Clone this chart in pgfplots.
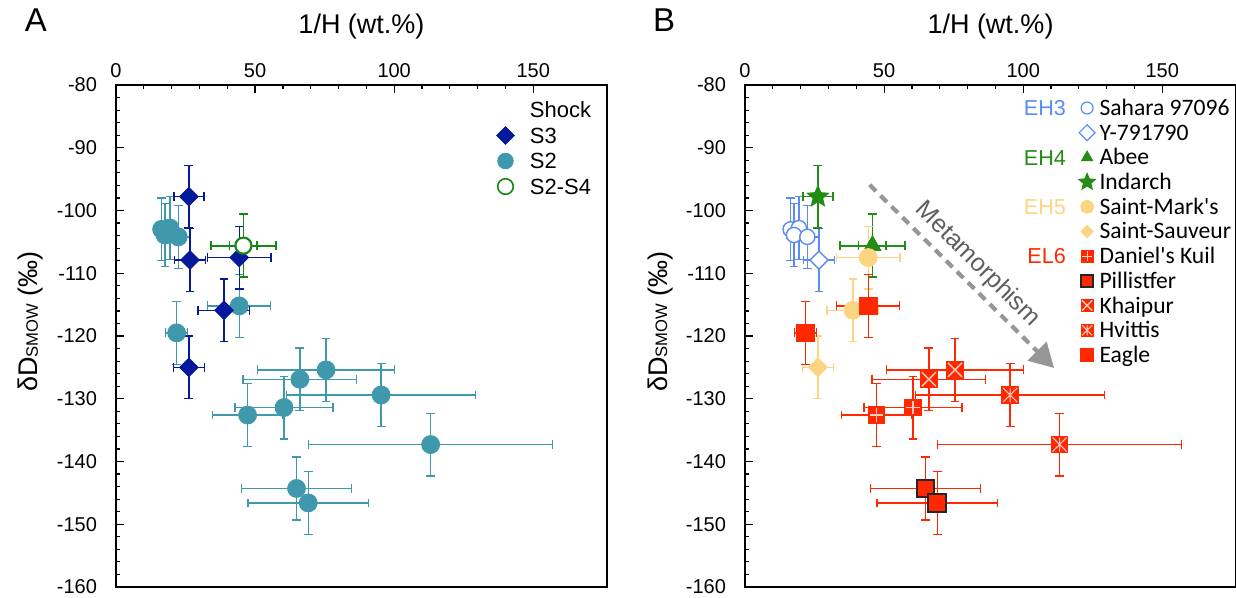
\documentclass[border=0pt]{standalone}
\usepackage{fontspec}
\setmainfont{Liberation Sans}
\newfontfamily\carlito{Carlito}
\usepackage{pgfplots}
\pgfplotsset{compat=1.18}
\usepackage{pgfplotstable}
\usetikzlibrary{arrows.meta}

\definecolor{sthree}{RGB}{5,25,155}
\definecolor{stwo}{RGB}{64,152,173}
\definecolor{sfour}{RGB}{20,135,20}
\definecolor{ehthree}{RGB}{90,140,245}
\definecolor{ehfour}{RGB}{35,140,20}
\definecolor{ehfive}{RGB}{252,212,130}
\definecolor{elsix}{RGB}{255,40,0}
\definecolor{metgray}{RGB}{150,150,150}
\definecolor{mettext}{RGB}{95,95,95}
\definecolor{mwhite}{RGB}{255,205,195}

\pgfdeclareplotmark{fstar}{%
  \pgfpathmoveto{\pgfpointpolar{90}{\pgfplotmarksize}}%
  \pgfpathlineto{\pgfpointpolar{126}{0.45\pgfplotmarksize}}%
  \pgfpathlineto{\pgfpointpolar{162}{\pgfplotmarksize}}%
  \pgfpathlineto{\pgfpointpolar{198}{0.45\pgfplotmarksize}}%
  \pgfpathlineto{\pgfpointpolar{234}{\pgfplotmarksize}}%
  \pgfpathlineto{\pgfpointpolar{270}{0.45\pgfplotmarksize}}%
  \pgfpathlineto{\pgfpointpolar{306}{\pgfplotmarksize}}%
  \pgfpathlineto{\pgfpointpolar{342}{0.45\pgfplotmarksize}}%
  \pgfpathlineto{\pgfpointpolar{18}{\pgfplotmarksize}}%
  \pgfpathlineto{\pgfpointpolar{54}{0.45\pgfplotmarksize}}%
  \pgfpathclose
  \pgfusepathqfill}
\pgfdeclareplotmark{sqplus}{%
  \pgfpathrectangle{\pgfqpoint{-\pgfplotmarksize}{-\pgfplotmarksize}}{\pgfqpoint{2\pgfplotmarksize}{2\pgfplotmarksize}}%
  \pgfusepathqfill
  \pgfsetstrokecolor{mwhite}\pgfsetlinewidth{0.6pt}%
  \pgfpathmoveto{\pgfqpoint{-0.75\pgfplotmarksize}{0pt}}\pgfpathlineto{\pgfqpoint{0.75\pgfplotmarksize}{0pt}}%
  \pgfpathmoveto{\pgfqpoint{0pt}{-0.75\pgfplotmarksize}}\pgfpathlineto{\pgfqpoint{0pt}{0.75\pgfplotmarksize}}%
  \pgfusepathqstroke}
\pgfdeclareplotmark{sqx}{%
  \pgfpathrectangle{\pgfqpoint{-\pgfplotmarksize}{-\pgfplotmarksize}}{\pgfqpoint{2\pgfplotmarksize}{2\pgfplotmarksize}}%
  \pgfusepathqfill
  \pgfsetstrokecolor{mwhite}\pgfsetlinewidth{0.7pt}%
  \pgfpathmoveto{\pgfqpoint{-0.8\pgfplotmarksize}{-0.8\pgfplotmarksize}}\pgfpathlineto{\pgfqpoint{0.8\pgfplotmarksize}{0.8\pgfplotmarksize}}%
  \pgfpathmoveto{\pgfqpoint{-0.8\pgfplotmarksize}{0.8\pgfplotmarksize}}\pgfpathlineto{\pgfqpoint{0.8\pgfplotmarksize}{-0.8\pgfplotmarksize}}%
  \pgfusepathqstroke}
\pgfdeclareplotmark{sqast}{%
  \pgfpathrectangle{\pgfqpoint{-\pgfplotmarksize}{-\pgfplotmarksize}}{\pgfqpoint{2\pgfplotmarksize}{2\pgfplotmarksize}}%
  \pgfusepathqfill
  \pgfsetstrokecolor{mwhite}\pgfsetlinewidth{0.55pt}%
  \pgfpathmoveto{\pgfqpoint{-0.8\pgfplotmarksize}{-0.8\pgfplotmarksize}}\pgfpathlineto{\pgfqpoint{0.8\pgfplotmarksize}{0.8\pgfplotmarksize}}%
  \pgfpathmoveto{\pgfqpoint{-0.8\pgfplotmarksize}{0.8\pgfplotmarksize}}\pgfpathlineto{\pgfqpoint{0.8\pgfplotmarksize}{-0.8\pgfplotmarksize}}%
  \pgfpathmoveto{\pgfqpoint{0pt}{-0.8\pgfplotmarksize}}\pgfpathlineto{\pgfqpoint{0pt}{0.8\pgfplotmarksize}}%
  \pgfusepathqstroke}

\pgfplotsset{
  panel/.style={
    scale only axis, width=245.5pt, height=251pt,
    xmin=0, xmax=176.5, ymin=-160, ymax=-80,
    xtick={0,50,100,150}, ytick={-160,-150,...,-80},
    minor x tick num=4, minor y tick num=4,
    xtick pos=right, xticklabel pos=right, ytick pos=left,
    tick align=inside,
    major tick length=4pt, minor tick length=2pt,
    every tick/.style={black, line width=0.6pt},
    axis line style={line width=1.3pt},
    tick label style={font=\fontsize{10}{12}\selectfont},
    /pgf/number format/assume math mode=true,
    yticklabel style={xshift=-6pt},
    xlabel={1/H (wt.\%)},
    ylabel={δD{\fontsize{8.3}{9}\selectfont SMOW} (‰)},
    every axis x label/.style={at={(axis description cs:0.5,1)}, anchor=base, yshift=26pt, font=\fontsize{13.5}{16}\selectfont},
    every axis y label/.style={at={(axis description cs:-0.1731,0.529)}, rotate=90, anchor=center, font=\fontsize{13.5}{16}\selectfont},
    legend cell align=left,
  },
  errb/.style={
    error bars/x dir=both, error bars/x explicit,
    error bars/y dir=both, error bars/y explicit,
    error bars/error bar style={line width=#1},
    error bars/error mark options={rotate=90, mark size=2.2pt, line width=#1}},
  errb/.default=0.65pt,
}

\begin{document}
\begin{tikzpicture}
% ---------------- Panel A ----------------
\begin{axis}[panel, at={(58pt,5.5pt)}, anchor=south west,
  legend style={draw=none, fill=none, at={(axis description cs:0.768,0.9756)}, anchor=north west,
    inner sep=0pt, outer sep=0pt, row sep=0pt, column sep=0pt,
    font=\fontsize{11}{13}\selectfont,
    nodes={inner sep=0pt, text height=10.3pt, text depth=2.45pt}},
  legend image code/.code={\path (-6pt,0pt) (12pt,0pt); \draw[#1] plot coordinates {(0pt,0pt)};}]
\addlegendimage{empty legend}\addlegendentry{Shock}
\addlegendimage{only marks, color=sthree, mark=square*, mark size=3.1pt, mark options={rotate=45}}\addlegendentry{S3}
\addlegendimage{only marks, color=stwo, mark=*, mark size=3.9pt}\addlegendentry{S2}
\addlegendimage{only marks, color=sfour, mark=*, mark size=3.9pt, mark options={fill=white, line width=0.8pt}}\addlegendentry{S2-S4}

\addplot[forget plot, only marks, color=stwo, mark=*, mark size=4.5pt, errb]
 table[x=x, y=y, x error=ex, y error=ey]{
x y ex ey
16.4 -103.0 2.5 5
19.4 -102.8 3 5
17.6 -103.9 2.5 5
22.4 -104.2 4.5 5
44.3 -115.2 11.3 5
21.8 -119.5 3.9 5
75.5 -125.4 24.6 5
66.1 -126.9 20.4 5
95.3 -129.4 34 5
60.4 -131.4 17.6 5
47.3 -132.6 12.7 5
113.1 -137.3 43.8 5
64.9 -144.3 19.8 5
69.1 -146.6 21.7 5
};
\addplot[forget plot, only marks, color=sthree, mark=square*, mark size=3.3pt, mark options={rotate=45}, errb]
 table[x=x, y=y, x error=ex, y error=ey]{
x y ex ey
26.2 -97.8 5.4 5
26.6 -107.9 5.5 5
44.3 -107.5 11.4 5
38.8 -115.9 9.3 5
26.2 -125.0 5.5 5
};
\addplot[forget plot, only marks, color=sfour, mark=*, mark size=4pt, mark options={fill=white, line width=1pt}, errb=0.9pt]
 table[x=x, y=y, x error=ex, y error=ey]{
x y ex ey
45.8 -105.6 11.7 5
45.8 -105.6 5 5
};
\end{axis}

% ---------------- Panel B ----------------
\begin{axis}[panel, at={(372.5pt,5.5pt)}, anchor=south west,
  legend style={draw=none, fill=none, at={(axis description cs:0.6715,0.9788)}, anchor=north west,
    inner sep=0pt, outer sep=0pt, row sep=0pt, column sep=0pt,
    font=\carlito\fontsize{11.8}{13}\selectfont,
    nodes={inner sep=0pt, text height=9.9pt, text depth=2.45pt}},
  legend image code/.code={\path (-6pt,0pt) (6pt,0pt); \draw[#1] plot coordinates {(0pt,0pt)};}]
\addlegendimage{only marks, color=ehthree, mark=*, mark size=3pt, mark options={fill=white, line width=0.6pt}}\addlegendentry{Sahara 97096}
\addlegendimage{only marks, color=ehthree, mark=square*, mark size=2.8pt, mark options={rotate=45, fill=white, line width=0.6pt}}\addlegendentry{Y-791790}
\addlegendimage{only marks, color=ehfour, mark=triangle*, mark size=3.2pt}\addlegendentry{Abee}
\addlegendimage{only marks, color=ehfour, mark=fstar, mark size=5pt}\addlegendentry{Indarch}
\addlegendimage{only marks, color=ehfive, mark=*, mark size=3.2pt}\addlegendentry{Saint-Mark's}
\addlegendimage{only marks, color=ehfive, mark=square*, mark size=2.2pt, mark options={rotate=45}}\addlegendentry{Saint-Sauveur}
\addlegendimage{only marks, color=elsix, mark=sqplus, mark size=3.2pt}\addlegendentry{Daniel's Kuil}
\addlegendimage{only marks, color=elsix, mark=square*, mark size=3pt, mark options={draw=black!85, line width=0.8pt}}\addlegendentry{Pillistfer}
\addlegendimage{only marks, color=elsix, mark=sqx, mark size=3.2pt}\addlegendentry{Khaipur}
\addlegendimage{only marks, color=elsix, mark=sqast, mark size=3.2pt}\addlegendentry{Hvittis}
\addlegendimage{only marks, color=elsix, mark=square*, mark size=3.2pt}\addlegendentry{Eagle}

% EH3 Sahara 97096
\addplot[forget plot, only marks, color=ehthree, mark=*, mark size=3.8pt, mark options={fill=white, line width=0.7pt}, errb]
 table[x=x, y=y, x error=ex, y error=ey]{
x y ex ey
16.4 -103.0 2.5 5
19.4 -102.8 3 5
17.6 -103.9 2.5 5
22.4 -104.2 4.5 5
};
% EH3 Y-791790
\addplot[forget plot, only marks, color=ehthree, mark=square*, mark size=3.2pt, mark options={rotate=45, fill=white, line width=0.7pt}, errb]
 table[x=x, y=y, x error=ex, y error=ey]{
x y ex ey
26.6 -107.9 5.5 5
};
% EH4 Abee
\addplot[forget plot, only marks, color=ehfour, mark=triangle*, mark size=4.8pt, errb=0.9pt]
 table[x=x, y=y, x error=ex, y error=ey]{
x y ex ey
45.8 -105.6 11.7 5
45.8 -105.6 5 5
};
% EH4 Indarch
\addplot[forget plot, only marks, color=ehfour, mark=fstar, mark size=6.2pt, errb]
 table[x=x, y=y, x error=ex, y error=ey]{
x y ex ey
26.2 -97.8 5.4 5
};
% EH5 Saint-Mark's
\addplot[forget plot, only marks, color=ehfive, mark=*, mark size=4.5pt, errb]
 table[x=x, y=y, x error=ex, y error=ey]{
x y ex ey
44.3 -107.5 11.4 5
38.8 -115.9 9.3 5
};
% EH5 Saint-Sauveur
\addplot[forget plot, only marks, color=ehfive, mark=square*, mark size=3.4pt, mark options={rotate=45}, errb]
 table[x=x, y=y, x error=ex, y error=ey]{
x y ex ey
26.2 -125.0 5.5 5
};
% EL6 Daniel's Kuil
\addplot[forget plot, only marks, color=elsix, mark=sqplus, mark size=4.4pt, errb]
 table[x=x, y=y, x error=ex, y error=ey]{
x y ex ey
47.3 -132.6 12.7 5
60.4 -131.4 17.6 5
};
% EL6 Khaipur
\addplot[forget plot, only marks, color=elsix, mark=sqx, mark size=4.4pt, errb]
 table[x=x, y=y, x error=ex, y error=ey]{
x y ex ey
66.1 -126.9 20.4 5
75.5 -125.4 24.6 5
};
% EL6 Hvittis
\addplot[forget plot, only marks, color=elsix, mark=sqast, mark size=4.4pt, errb]
 table[x=x, y=y, x error=ex, y error=ey]{
x y ex ey
95.3 -129.4 34 5
113.1 -137.3 43.8 5
};
% EL6 Eagle
\addplot[forget plot, only marks, color=elsix, mark=square*, mark size=4.4pt, errb]
 table[x=x, y=y, x error=ex, y error=ey]{
x y ex ey
44.3 -115.2 11.3 5
21.8 -119.5 3.9 5
};
% EL6 Pillistfer
\addplot[forget plot, only marks, color=elsix, mark=square*, mark size=4.4pt, mark options={draw=black!85, line width=1pt, fill=elsix}, errb]
 table[x=x, y=y, x error=ex, y error=ey]{
x y ex ey
64.9 -144.3 19.8 5
69.1 -146.6 21.7 5
};

\draw[metgray, line width=2.1pt, dash pattern=on 4.5pt off 3.2pt, -{Triangle[length=12pt,width=13pt]}]
  (axis cs:44.8,-95.9) -- (axis cs:111.1,-125.1);
\node[rotate=-45, text=mettext, font=\fontsize{12.5}{14}\selectfont] at (axis cs:83.6,-108.6) {Metamorphism};

\node[anchor=base east, text=ehthree, font=\fontsize{10.8}{12}\selectfont] at (axis cs:117.9,-84.86) {EH3};
\node[anchor=base east, text=ehfour, font=\fontsize{10.8}{12}\selectfont] at (axis cs:117.9,-92.83) {EH4};
\node[anchor=base east, text=ehfive, font=\fontsize{10.8}{12}\selectfont] at (axis cs:117.9,-100.59) {EH5};
\node[anchor=base east, text=elsix, font=\fontsize{10.8}{12}\selectfont] at (axis cs:117.9,-108.4) {EL6};
\end{axis}

\node[font=\fontsize{16.5}{18}\selectfont] at (18pt,289pt) {A};
\node[font=\fontsize{16.5}{18}\selectfont] at (332pt,289pt) {B};

\pgfresetboundingbox
\useasboundingbox (0,0) rectangle (618pt,299pt);
\end{tikzpicture}
\end{document}
